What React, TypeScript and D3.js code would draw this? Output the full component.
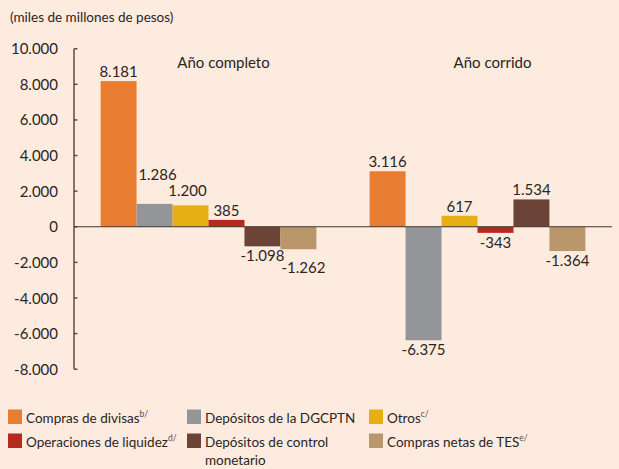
import { useMemo } from "react";
import * as d3 from "d3";

const groups = ["Año completo", "Año corrido"];
const series = [
  "Compras de divisas",
  "Depósitos de la DGCPTN",
  "Otros",
  "Operaciones de liquidez",
  "Depósitos de control monetario",
  "Compras netas de TES",
];
const seriesSup = ["b/", "", "c/", "d/", "", "e/"];
const anioCompleto = [8181, 1286, 1200, 385, -1098, -1262];
const anioCorrido = [3116, -6375, 617, -343, 1534, -1364];
const yTicks = [10000, 8000, 6000, 4000, 2000, 0, -2000, -4000, -6000, -8000];

const colors = ["#E97D31", "#939598", "#E8AF15", "#B7291F", "#6B4437", "#B9976A"];

// small nudges to keep labels from overlapping (only first group)
const labelNudge = [
  [[0, 0], [3, -20], [-3, -5], [0, 0], [0, 0], [5, 9]],
  [[0, 0], [0, 0], [0, 0], [0, 0], [0, 0], [0, 0]],
];

const WIDTH = 619;
const HEIGHT = 469;
const FONT = "Lato, 'Open Sans', sans-serif";
const TXT = "#2b2522";

const locale = d3.formatLocale({
  decimal: ",",
  thousands: ".",
  grouping: [3],
  currency: ["$", ""],
  minus: "-",
});
const fmt = locale.format(",d");

export default function App() {
  const values = [anioCompleto, anioCorrido];

  const y = useMemo(() => d3.scaleLinear().domain([-8000, 10000]).range([369.2, 48.7]), []);
  const x0 = useMemo(() => d3.scaleBand<string>().domain(groups).range([74, 612]).padding(0), []);
  const x1 = useMemo(
    () => d3.scaleBand<number>().domain(d3.range(series.length)).range([0, x0.bandwidth()]).paddingOuter(0.74).paddingInner(0),
    [x0]
  );

  const legendCols = [8, 187, 369];

  return (
    <svg
      width={WIDTH}
      height={HEIGHT}
      style={{ position: "absolute", left: 0, top: 0, background: "#FDEBE0" }}
      fontFamily={FONT}
    >
      <rect width={WIDTH} height={HEIGHT} fill="#FDEBE0" />
      <text x={10} y={21.5} fontSize={13.5} fill={TXT}>
        (miles de millones de pesos)
      </text>

      {/* y axis */}
      <line x1={74} x2={74} y1={y(10000)} y2={y(-8000)} stroke="#5b4d47" strokeWidth={1.5} />
      {yTicks.map((t) => (
        <g key={t}>
          <line x1={74} x2={77.5} y1={y(t)} y2={y(t)} stroke="#5b4d47" strokeWidth={1.5} />
          <text x={58} y={y(t)} dy="0.37em" textAnchor="end" fontSize={15} fill={TXT}>
            {fmt(t)}
          </text>
        </g>
      ))}

      {groups.map((g, gi) => (
        <g key={g} transform={`translate(${x0(g)},0)`}>
          <text x={x0.bandwidth() / 2 + 15} y={67.5} textAnchor="middle" fontSize={15} fill={TXT}>
            {g}
          </text>
          {values[gi].map((v, i) => {
            const bx = x1(i) as number;
            const top = y(Math.max(0, v));
            const h = Math.abs(y(v) - y(0));
            const [dx, dy] = labelNudge[gi][i];
            const ly = v >= 0 ? y(v) - 4 : y(v) + 15;
            return (
              <g key={i}>
                <rect x={bx} y={top} width={x1.bandwidth()} height={h} fill={colors[i]} />
                <text
                  x={bx + x1.bandwidth() / 2 + dx}
                  y={ly + dy}
                  textAnchor="middle"
                  fontSize={15}
                  fill={TXT}
                >
                  {fmt(v)}
                </text>
              </g>
            );
          })}
        </g>
      ))}

      {/* zero line */}
      <line x1={74} x2={612} y1={y(0)} y2={y(0)} stroke="#3d3532" strokeWidth={1} />

      {/* legend */}
      {series.map((s, i) => {
        const col = i % 3;
        const row = Math.floor(i / 3);
        const lx = legendCols[col];
        const ly = 409.5 + row * 24;
        const wrap = s === "Depósitos de control monetario";
        return (
          <g key={s} transform={`translate(${lx},${ly})`}>
            <rect width={14} height={14.5} fill={colors[i]} />
            <text x={18} y={13.5} fontSize={13.5} fill={TXT}>
              {wrap ? "Depósitos de control" : s}
              {seriesSup[i] && (
                <tspan fontSize={8.5} dy={-6} fill="#5b4d47">
                  {seriesSup[i]}
                </tspan>
              )}
            </text>
            {wrap && (
              <text x={18} y={31} fontSize={13.5} fill={TXT}>
                monetario
              </text>
            )}
          </g>
        );
      })}
    </svg>
  );
}
